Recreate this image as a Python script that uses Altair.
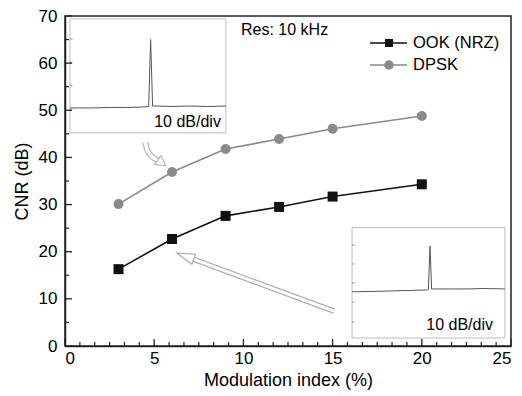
import altair as alt
import pandas as pd

# ---------------- data ----------------
mod_index = [3, 6, 9, 12, 15, 20]
ook_cnr = [16.3, 22.7, 27.6, 29.5, 31.7, 34.3]
dpsk_cnr = [30.1, 36.9, 41.8, 43.9, 46.1, 48.8]
series_names = ["OOK (NRZ)", "DPSK"]

x_major = [0, 5, 10, 15, 20, 25]
x_minor = [round(k * 5 / 6, 4) for k in range(1, 30) if k % 6]
y_major = [0, 10, 20, 30, 40, 50, 60, 70]
y_minor = [5, 15, 25, 35, 45, 55, 65]

# inset spectra (drawn in the main chart's data units)
ins1_box = [0.28, 9.02, 45.2, 69.4]
ins1_f = [0.28, 1.5, 2.5, 3.5, 4.4, 4.69, 4.80, 4.91, 5.2, 6.0, 7.0, 8.0, 9.02]
ins1_p = [50.5, 50.5, 50.6, 50.6, 50.7, 50.8, 65.0, 50.9, 50.9, 50.8, 50.9, 50.8, 50.9]
ins1_ticks = [65.1, 60.2, 55.2, 50.3]

ins2_box = [16.09, 24.66, 1.7, 25.1]
ins2_f = [16.09, 17.5, 18.5, 19.5, 20.3, 20.37, 20.46, 20.55, 20.7, 21.5, 22.5, 23.5, 24.66]
ins2_p = [11.5, 11.6, 11.7, 11.8, 11.9, 12.0, 21.2, 12.1, 12.1, 12.1, 12.1, 12.2, 12.1]
ins2_ticks = [21.4, 17.4, 13.4, 9.3, 5.1]

inset_label = "10 dB/div"
res_label = "Res: 10 kHz"

# arrows (data units)
long_arrow_x = [15.08, 6.74]
long_arrow_y = [7.4, 19.05]
curve_arrow_x = [4.5, 4.6, 4.85, 5.15, 5.4]
curve_arrow_y = [43.2, 41.4, 40.1, 39.5, 38.9]

W, H = 446, 330
FONT = "Liberation Sans"

xs = alt.Scale(domain=[0, 25], nice=False, zero=False)
ys = alt.Scale(domain=[0, 70], nice=False, zero=False)

xax = alt.Axis(values=x_major, ticks=False, grid=False, labelPadding=4,
               labelFontSize=17, titleFontSize=18, titleFontWeight="normal",
               titlePadding=5, domainColor="#222", domainWidth=1.5,
               labelColor="black", titleColor="black", format="d")
yax = alt.Axis(values=y_major, ticks=False, grid=False, labelPadding=8,
               labelFontSize=17, titleFontSize=18, titleFontWeight="normal",
               titlePadding=7, domainColor="#222", domainWidth=1.5,
               labelColor="black", titleColor="black", format="d")

df = pd.DataFrame({
    "x": mod_index * 2,
    "y": ook_cnr + dpsk_cnr,
    "series": [series_names[0]] * len(mod_index) + [series_names[1]] * len(mod_index),
})
ook = df[df.series == series_names[0]]
dpsk = df[df.series == series_names[1]]

base_x = alt.X("x:Q", scale=xs, axis=xax, title="Modulation index (%)")
base_y = alt.Y("y:Q", scale=ys, axis=yax, title="CNR (dB)")

dpsk_line = alt.Chart(dpsk).mark_line(color="#8a8a8a", strokeWidth=1.6).encode(x=base_x, y=base_y)
dpsk_pts = alt.Chart(dpsk).mark_point(shape="circle", filled=True, color="#8a8a8a",
                                     size=100, opacity=1).encode(x="x:Q", y="y:Q")
ook_line = alt.Chart(ook).mark_line(color="#111111", strokeWidth=1.6).encode(x="x:Q", y="y:Q")
ook_pts = alt.Chart(ook).mark_point(shape="square", filled=True, color="#111111",
                                   size=100, opacity=1).encode(x="x:Q", y="y:Q")

# insets
boxes = pd.DataFrame({
    "x1": [ins1_box[0], ins2_box[0]], "x2": [ins1_box[1], ins2_box[1]],
    "y1": [ins1_box[2], ins2_box[2]], "y2": [ins1_box[3], ins2_box[3]],
})
inset_rects = alt.Chart(boxes).mark_rect(fill="white", stroke="#bdbdbd", strokeWidth=1).encode(
    x="x1:Q", x2="x2:Q", y="y1:Q", y2="y2:Q")

spec = pd.DataFrame({
    "f": ins1_f + ins2_f,
    "p": ins1_p + ins2_p,
    "inset": ["a"] * len(ins1_f) + ["b"] * len(ins2_f),
    "o": list(range(len(ins1_f))) + list(range(len(ins2_f))),
})
traces = alt.Chart(spec).mark_line(color="#555555", strokeWidth=1).encode(
    x="f:Q", y="p:Q", detail="inset:N", order="o:Q")

itk = pd.DataFrame({
    "x1": [ins1_box[0]] * len(ins1_ticks) + [ins2_box[0]] * len(ins2_ticks),
    "x2": [ins1_box[0] + 0.15] * len(ins1_ticks) + [ins2_box[0] + 0.15] * len(ins2_ticks),
    "y": ins1_ticks + ins2_ticks,
})
inset_ticks = alt.Chart(itk).mark_rule(color="#999999", strokeWidth=1).encode(
    x="x1:Q", x2="x2:Q", y="y:Q")

labels = pd.DataFrame({"x": [8.74, 23.99], "y": [47.5, 4.45], "t": [inset_label, inset_label]})
inset_text = alt.Chart(labels).mark_text(align="right", baseline="middle", fontSize=16,
                                         font=FONT, color="black").encode(
    x="x:Q", y="y:Q", text="t:N")

res = alt.Chart(pd.DataFrame({"t": [res_label]})).mark_text(
    align="left", baseline="middle", fontSize=16, font=FONT, color="black").encode(
    x=alt.value(176), y=alt.value(14), text="t:N")

# arrows
la = pd.DataFrame({"x": long_arrow_x, "y": long_arrow_y, "o": [0, 1]})
la_outer = alt.Chart(la).mark_line(color="#adadad", strokeWidth=5.5, strokeCap="butt").encode(
    x="x:Q", y="y:Q", order="o:Q")
la_inner = alt.Chart(la).mark_line(color="white", strokeWidth=3, strokeCap="butt").encode(
    x="x:Q", y="y:Q", order="o:Q")
la_head = alt.Chart(la.iloc[[1]]).mark_point(
    shape="M0,-1L0.6,1L-0.6,1Z", filled=True, fill="white", stroke="#adadad",
    strokeWidth=1.2, size=324, angle=290, opacity=1).encode(x="x:Q", y="y:Q")

ca = pd.DataFrame({"x": curve_arrow_x, "y": curve_arrow_y, "o": list(range(len(curve_arrow_x)))})
ca_outer = alt.Chart(ca).mark_line(color="#b5b5b5", strokeWidth=6, interpolate="basis",
                                   strokeCap="butt").encode(x="x:Q", y="y:Q", order="o:Q")
ca_inner = alt.Chart(ca).mark_line(color="white", strokeWidth=3.5, interpolate="basis",
                                   strokeCap="butt").encode(x="x:Q", y="y:Q", order="o:Q")
ca_head = alt.Chart(ca.iloc[[len(ca) - 1]]).mark_point(
    shape="M0,-1L1,0.8L-1,0.8Z", filled=True, fill="white", stroke="#b5b5b5",
    strokeWidth=1.2, size=120, angle=125, opacity=1).encode(x="x:Q", y="y:Q")

# inward ticks
xticks_major = alt.Chart(pd.DataFrame({"v": x_major})).mark_rule(color="#222", strokeWidth=1.3).encode(
    x="v:Q", y=alt.value(H), y2=alt.value(H - 7))
xticks_minor = alt.Chart(pd.DataFrame({"v": x_minor})).mark_rule(color="#222", strokeWidth=1.2).encode(
    x="v:Q", y=alt.value(H), y2=alt.value(H - 4))
yticks_major = alt.Chart(pd.DataFrame({"v": y_major})).mark_rule(color="#222", strokeWidth=1.3).encode(
    y="v:Q", x=alt.value(0), x2=alt.value(7))
yticks_minor = alt.Chart(pd.DataFrame({"v": y_minor})).mark_rule(color="#222", strokeWidth=1.2).encode(
    y="v:Q", x=alt.value(0), x2=alt.value(4))

# legend (manual)
leg_rows = []
for name, col, shape, ypix in [(series_names[0], "#111111", "square", 27),
                               (series_names[1], "#8a8a8a", "circle", 49)]:
    d = pd.DataFrame({"t": [name]})
    leg_rows.append(alt.Chart(d).mark_rule(color=col, strokeWidth=1.6).encode(
        x=alt.value(305), x2=alt.value(342), y=alt.value(ypix)))
    leg_rows.append(alt.Chart(d).mark_point(shape=shape, filled=True, color=col, opacity=1,
                                            size=64 if shape == "square" else 90).encode(
        x=alt.value(324), y=alt.value(ypix)))
    leg_rows.append(alt.Chart(d).mark_text(align="left", baseline="middle", fontSize=16.5,
                                           font=FONT, color="black").encode(
        x=alt.value(348), y=alt.value(ypix), text="t:N"))

chart = alt.layer(
    dpsk_line, dpsk_pts, ook_line, ook_pts,
    inset_rects, traces, inset_ticks, inset_text, res,
    la_outer, la_inner, la_head, ca_outer, ca_inner, ca_head,
    xticks_major, xticks_minor, yticks_major, yticks_minor,
    *leg_rows,
).properties(
    width=W, height=H,
    padding={"left": 65, "top": 16, "right": 11, "bottom": 50},
    autosize=alt.AutoSizeParams(type="none"),
    background="white",
).configure(
    font=FONT,
    view=alt.ViewConfig(stroke="#222222", strokeWidth=1.5),
)

chart.save("out.html", embed_options={"renderer": "svg", "actions": False})
